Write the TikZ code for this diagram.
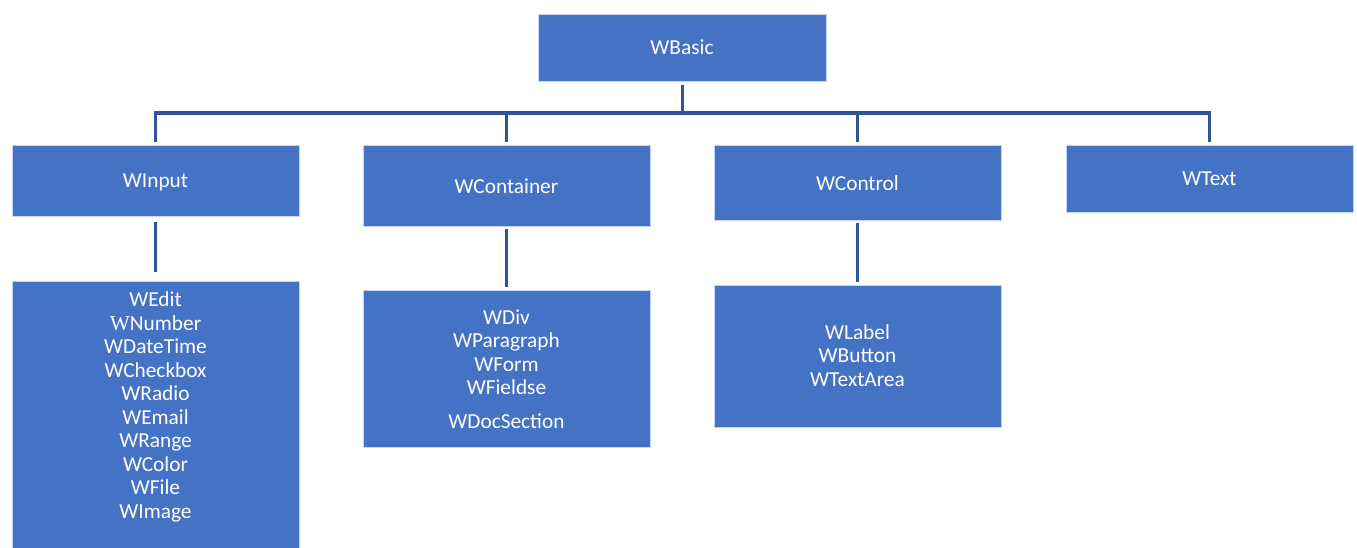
\documentclass[tikz,border=0pt]{standalone}
\usepackage{fontspec}
\setmainfont{Carlito}
\newfontfamily\wserif{Liberation Serif}
\definecolor{boxblue}{HTML}{4472C4}
\definecolor{boxedge}{HTML}{C9D5EE}
\definecolor{linkblue}{HTML}{2F5597}
\begin{document}
\begin{tikzpicture}[x=0.75pt,y=-0.75pt,
  box/.style={draw=boxedge,line width=0.6pt,fill=boxblue,inner sep=0pt,anchor=north west},
  txt/.style={text=white,align=center,inner sep=0pt,font=\fontsize{16}{17.6}\selectfont},
  conn/.style={draw=linkblue,line width=2.3pt}]
\clip (0,0) rectangle (1357,547);
\useasboundingbox (0,0) rectangle (1357,547);
% top level
\node[box,minimum width=288*0.75pt,minimum height=67*0.75pt] (basic) at (538,14) {};
\node[txt] (tbasic) at (682,47.5) {WBasic};
% second level
\node[box,minimum width=287*0.75pt,minimum height=71*0.75pt] (input) at (12,145) {};
\node[box,minimum width=287*0.75pt,minimum height=81*0.75pt] (container) at (363,145) {};
\node[box,minimum width=287*0.75pt,minimum height=75*0.75pt] (control) at (714,145) {};
\node[box,minimum width=287*0.75pt,minimum height=67*0.75pt] (wtext) at (1066,145) {};
\node[txt] (tinput) at (155.5,182) {WInput};
\node[txt] (tcontainer) at (506.5,186) {WContainer};
\node[txt] (tcontrol) at (857.5,183) {WControl};
\node[txt] (twtext) at (1209.5,179) {WText};
% lists
\node[box,minimum width=287*0.75pt,minimum height=280*0.75pt] (inputlist) at (12,281) {};
\node[box,minimum width=287*0.75pt,minimum height=157*0.75pt] (containerlist) at (363,290) {};
\node[box,minimum width=287*0.75pt,minimum height=142*0.75pt] (controllist) at (714,285) {};
\node[txt] (tinputlist) at (155.5,407) {WEdit\\{\wserif W}Number\\WDateTime\\WCheckbox\\WRadio\\WEmail\\WRange\\WColor\\WFile\\WImage};
\node[txt] (tcontainerlist) at (506.5,369) {WDiv\\WParagraph\\WForm\\WFieldse\\[7.5pt]WDocSection};
\node[txt] (tcontrollist) at (857.5,355.5) {WLabel\\WButton\\WTextArea};
% connectors
\coordinate (bar) at (682,113);
\draw[conn,shorten <=2.5pt] (basic.south) -- (basic.south |- bar);
\draw[conn,shorten <=2.5pt,shorten >=2.5pt] (input.north) -- (input.north |- bar) -- (wtext.north |- bar) -- (wtext.north);
\draw[conn,shorten <=2.5pt] (container.north) -- (container.north |- bar);
\draw[conn,shorten <=2.5pt] (control.north) -- (control.north |- bar);
\draw[conn,shorten <=4pt,shorten >=7pt] (input.south) -- (inputlist.north);
\draw[conn,shorten <=2pt,shorten >=2.5pt] (container.south) -- (containerlist.north);
\draw[conn,shorten <=2pt,shorten >=2.5pt] (control.south) -- (controllist.north);
\end{tikzpicture}
\end{document}
